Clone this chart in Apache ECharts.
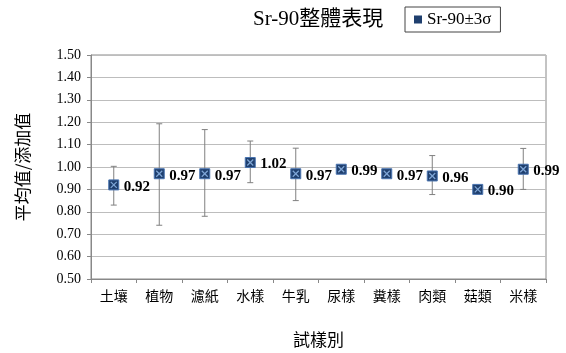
<!DOCTYPE html>
<html><head><meta charset="utf-8">
<script src="https://cdn.jsdelivr.net/npm/echarts@6/dist/echarts.min.js"></script>
<style>html,body{margin:0;padding:0;background:#fff}#c{width:566px;height:353px}</style>
</head><body><div id="c"></div>
<script>
var categories = ['土壤','植物','濾紙','水樣','牛乳','尿樣','糞樣','肉類','菇類','米樣'];
var means = [0.92, 0.97, 0.97, 1.02, 0.97, 0.99, 0.97, 0.96, 0.90, 0.99];
var lower = [0.83, 0.74, 0.78, 0.93, 0.85, null, null, 0.877, null, 0.90];
var upper = [1.003, 1.193, 1.167, 1.116, 1.084, null, null, 1.051, null, 1.083];
var yTicks = [0.5, 1.5, 0.1];

var serif = '"Liberation Serif","Times New Roman",serif';
var chart = echarts.init(document.getElementById('c'), null, {renderer:'canvas'});

var errData = categories.map(function(c,i){ return [i, lower[i], upper[i]]; }).filter(function(d){return d[1]!=null;});
var ptData = categories.map(function(c,i){ return [i, means[i]]; });

chart.setOption({
  animation:false,
  title:{text:'Sr-90整體表現', left:248, top:4, textStyle:{fontFamily:serif+',"Noto Sans CJK TC"', fontSize:21, fontWeight:'normal', color:'#000'}},
  legend:{
    left:405, top:7, itemWidth:8, itemHeight:8, itemGap:4, borderColor:'#444', borderWidth:1, padding:[4,9,4,9],
    data:[{name:'Sr-90±3σ', icon:'rect', itemStyle:{color:'#1F3F6E'}}],
    textStyle:{fontFamily:serif, fontSize:17, color:'#000'}
  },
  grid:{left:91, right:20, top:55, bottom:68, show:true, borderColor:'#888', borderWidth:1},
  xAxis:{
    type:'category', data:categories, boundaryGap:true,
    name:'試樣別', nameLocation:'middle', nameGap:52,
    nameTextStyle:{fontFamily:'"Noto Sans CJK TC"', fontSize:17, color:'#000'},
    axisLine:{lineStyle:{color:'#888'}},
    axisTick:{show:true, inside:false, length:4, lineStyle:{color:'#888'}},
    axisLabel:{fontFamily:'"Noto Sans CJK TC"', fontSize:14, color:'#000', margin:10}
  },
  yAxis:{
    type:'value', min:yTicks[0], max:yTicks[1], interval:yTicks[2],
    name:'平均值/添加值', nameLocation:'middle', nameGap:60, nameRotate:90,
    nameTextStyle:{fontFamily:'"Noto Sans CJK TC"', fontSize:17, color:'#000'},
    axisLine:{show:true, lineStyle:{color:'#888'}},
    axisTick:{show:true, length:4, lineStyle:{color:'#888'}},
    splitLine:{lineStyle:{color:'#bdbdbd'}},
    axisLabel:{fontFamily:serif, fontSize:14, color:'#000', margin:10, formatter:function(v){return v.toFixed(2);}}
  },
  series:[
    {
      type:'custom', name:'err', silent:true, data:errData, z:2,
      renderItem:function(params, api){
        var x = api.value(0);
        var lo = api.coord([x, api.value(1)]);
        var hi = api.coord([x, api.value(2)]);
        var s = {stroke:'#808080', lineWidth:1};
        var hw = 3;
        return {type:'group', children:[
          {type:'line', shape:{x1:lo[0], y1:lo[1], x2:hi[0], y2:hi[1]}, style:s},
          {type:'line', shape:{x1:lo[0]-hw, y1:lo[1], x2:lo[0]+hw, y2:lo[1]}, style:s},
          {type:'line', shape:{x1:hi[0]-hw, y1:hi[1], x2:hi[0]+hw, y2:hi[1]}, style:s}
        ]};
      }
    },
    {
      type:'custom', name:'Sr-90±3σ', data:ptData, z:3,
      itemStyle:{color:'#1F3F6E'},
      renderItem:function(params, api){
        var p = api.coord([api.value(0), api.value(1)]);
        var h = 5;
        var xs = {stroke:'#7FA6D6', lineWidth:1.2};
        return {type:'group', children:[
          {type:'rect', shape:{x:p[0]-h, y:p[1]-h, width:2*h, height:2*h}, style:{fill:'#1F3F6E', stroke:'#4A74B0', lineWidth:1}},
          {type:'line', shape:{x1:p[0]-h+2, y1:p[1]-h+2, x2:p[0]+h-2, y2:p[1]+h-2}, style:xs},
          {type:'line', shape:{x1:p[0]+h-2, y1:p[1]-h+2, x2:p[0]-h+2, y2:p[1]+h-2}, style:xs},
          {type:'text', style:{x:p[0]+h+5, y:p[1]+2, text:api.value(1).toFixed(2), fill:'#000', font:'bold 15px '+serif, textAlign:'left', textVerticalAlign:'middle'}}
        ]};
      }
    }
  ]
});
</script></body></html>
